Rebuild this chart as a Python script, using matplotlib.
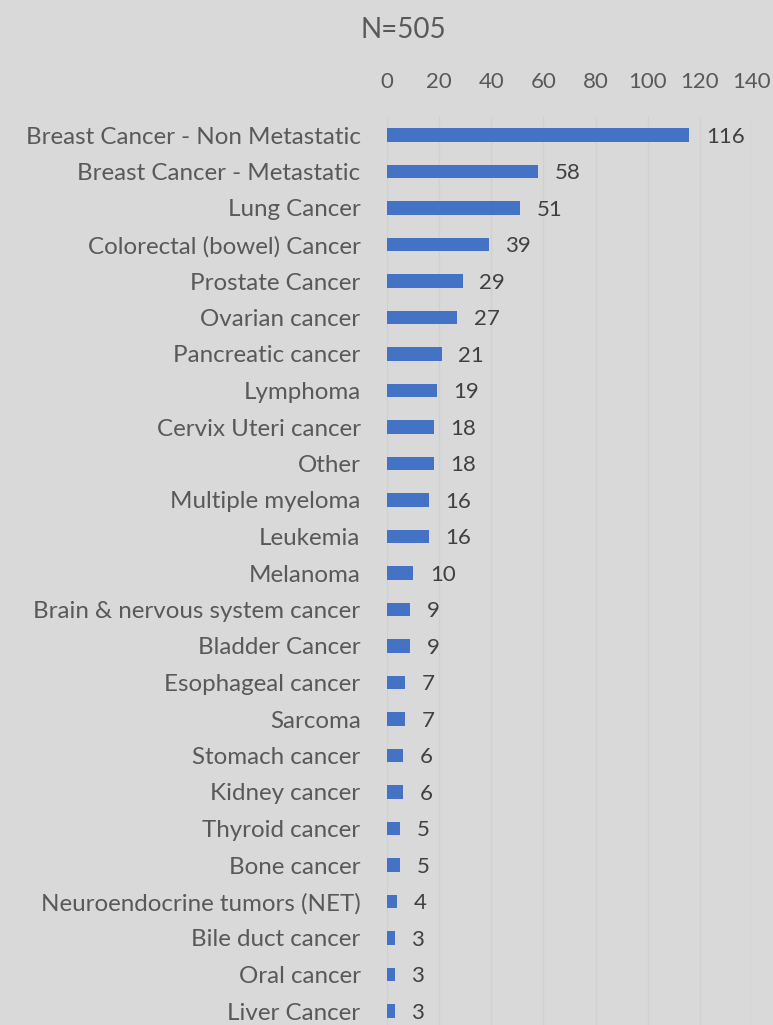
import matplotlib
matplotlib.use("Agg")
import matplotlib.pyplot as plt

# cancer types, top to bottom
categories = [
    "Breast Cancer - Non Metastatic", "Breast Cancer - Metastatic", "Lung Cancer",
    "Colorectal (bowel) Cancer", "Prostate Cancer", "Ovarian cancer",
    "Pancreatic cancer", "Lymphoma", "Cervix Uteri cancer", "Other",
    "Multiple myeloma", "Leukemia", "Melanoma", "Brain & nervous system cancer",
    "Bladder Cancer", "Esophageal cancer", "Sarcoma", "Stomach cancer",
    "Kidney cancer", "Thyroid cancer", "Bone cancer",
    "Neuroendocrine tumors (NET)", "Bile duct cancer", "Oral cancer", "Liver Cancer",
]
counts = [116, 58, 51, 39, 29, 27, 21, 19, 18, 18, 16, 16, 10, 9, 9, 7, 7, 6, 6, 5, 5, 4, 3, 3, 3]
xticks = [0, 20, 40, 60, 80, 100, 120, 140]

bg = "#d9d9d9"
txt = "#595959"
plt.rcParams["font.family"] = ["Lato", "DejaVu Sans"]

W, H = 773, 1025
fig = plt.figure(figsize=(W / 100, H / 100), dpi=100, facecolor=bg)

# axes placed in pixel terms: x 387..752, rows from 135 to 1011 (spacing 36.5)
x0, x1 = 387, 752
step = 36.5
top = 135 - step / 2
bot = 1011 + step / 2
ax = fig.add_axes([x0 / W, 1 - bot / H, (x1 - x0) / W, (bot - top) / H])
ax.set_facecolor(bg)

ypos = list(range(len(categories)))
ax.barh(ypos, counts, height=0.36, color="#4472c4")
ax.set_ylim(len(categories) - 0.5, -0.5)
ax.set_xlim(0, 140)

for y, v in zip(ypos, counts):
    ax.annotate(str(v), (v, y + 0.05), xytext=(12, 0), textcoords="offset points",
                va="center", ha="left", fontsize=16, color="#404040")

ax.set_yticks(ypos)
ax.set_yticklabels(categories, fontsize=17.4, color=txt)
ax.set_xticks(xticks)
ax.set_xticklabels([str(t) for t in xticks], fontsize=16, color=txt)
ax.xaxis.tick_top()
ax.tick_params(axis="x", length=0, pad=17.5)
ax.tick_params(axis="y", length=0, pad=19)
ax.grid(axis="x", color="#d0d0d0", lw=0.9)
ax.set_axisbelow(True)
for s in ax.spines.values():
    s.set_visible(False)

fig.text(403 / W, 1 - 30 / H, "N=505", ha="center", va="center", fontsize=20, color=txt)

fig.savefig("out.png", dpi=100, facecolor=bg)
